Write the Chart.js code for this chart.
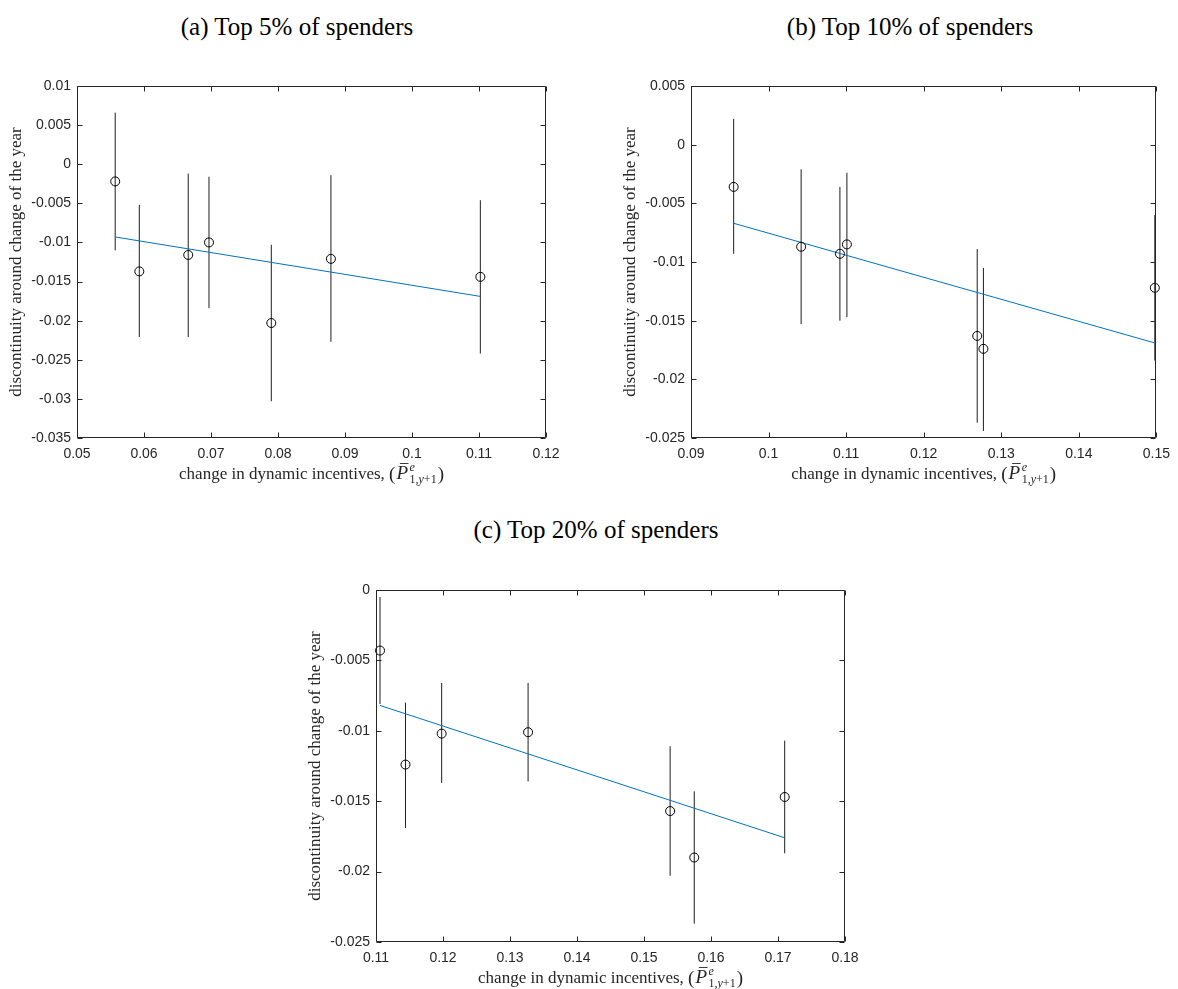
<!DOCTYPE html>
<html>
<head>
<meta charset="utf-8">
<script src="https://cdn.jsdelivr.net/npm/chart.js@4/dist/chart.umd.min.js"></script>
<style>
  html, body { margin: 0; padding: 0; background: #ffffff; }
  body { width: 1178px; height: 989px; position: relative; overflow: hidden; }
  canvas { position: absolute; }
  .ttl { position: absolute; font-family: "Liberation Serif", "Times New Roman", serif; font-size: 25px; color: #000; text-align: center; width: 400px; line-height: 26px; white-space: nowrap; }
</style>
</head>
<body>
<div class="ttl" style="left:97px; top:14px;">(a) Top 5% of spenders</div>
<div class="ttl" style="left:710px; top:14px;">(b) Top 10% of spenders</div>
<div class="ttl" style="left:396px; top:517px;">(c) Top 20% of spenders</div>
<canvas id="cA" width="600" height="440" style="left:0px; top:60px;"></canvas>
<canvas id="cB" width="578" height="440" style="left:600px; top:60px;"></canvas>
<canvas id="cC" width="600" height="424" style="left:290px; top:565px;"></canvas>
<script>
// ---------- Panel (a): Top 5% ----------
const xA   = [0.0557, 0.0593, 0.0666, 0.0697, 0.0790, 0.0879, 0.1102];
const yA   = [-0.0022, -0.0137, -0.0116, -0.0100, -0.0203, -0.0121, -0.0144];
const hiA  = [0.0066, -0.0052, -0.0012, -0.0016, -0.0103, -0.0014, -0.0046];
const loA  = [-0.0110, -0.0221, -0.0221, -0.0184, -0.0303, -0.0227, -0.0242];
const fitXA = [0.0557, 0.1102];
const fitYA = [-0.0093, -0.0169];
const xTickValsA = [0.05, 0.06, 0.07, 0.08, 0.09, 0.1, 0.11, 0.12];
const xTickLabelsA = ['0.05', '0.06', '0.07', '0.08', '0.09', '0.1', '0.11', '0.12'];
const yTickValsA = [0.01, 0.005, 0, -0.005, -0.01, -0.015, -0.02, -0.025, -0.03, -0.035];
const yTickLabelsA = ['0.01', '0.005', '0', '-0.005', '-0.01', '-0.015', '-0.02', '-0.025', '-0.03', '-0.035'];

// ---------- Panel (b): Top 10% ----------
const xB   = [0.0955, 0.1042, 0.1092, 0.1101, 0.1269, 0.1277, 0.1498];
const yB   = [-0.0036, -0.0087, -0.0093, -0.0085, -0.0163, -0.0174, -0.0122];
const hiB  = [0.0022, -0.0021, -0.0036, -0.0024, -0.0089, -0.0105, -0.0060];
const loB  = [-0.0093, -0.0153, -0.0150, -0.0147, -0.0237, -0.0244, -0.0184];
const fitXB = [0.0955, 0.1498];
const fitYB = [-0.0067, -0.0169];
const xTickValsB = [0.09, 0.1, 0.11, 0.12, 0.13, 0.14, 0.15];
const xTickLabelsB = ['0.09', '0.1', '0.11', '0.12', '0.13', '0.14', '0.15'];
const yTickValsB = [0.005, 0, -0.005, -0.01, -0.015, -0.02, -0.025];
const yTickLabelsB = ['0.005', '0', '-0.005', '-0.01', '-0.015', '-0.02', '-0.025'];

// ---------- Panel (c): Top 20% ----------
const xC   = [0.1106, 0.1144, 0.1198, 0.1327, 0.1539, 0.1575, 0.1710];
const yC   = [-0.0043, -0.0124, -0.0102, -0.0101, -0.0157, -0.0190, -0.0147];
const hiC  = [-0.0005, -0.0080, -0.0066, -0.0066, -0.0111, -0.0143, -0.0107];
const loC  = [-0.0081, -0.0169, -0.0137, -0.0136, -0.0203, -0.0237, -0.0187];
const fitXC = [0.1106, 0.1710];
const fitYC = [-0.0082, -0.0176];
const xTickValsC = [0.11, 0.12, 0.13, 0.14, 0.15, 0.16, 0.17, 0.18];
const xTickLabelsC = ['0.11', '0.12', '0.13', '0.14', '0.15', '0.16', '0.17', '0.18'];
const yTickValsC = [0, -0.005, -0.01, -0.015, -0.02, -0.025];
const yTickLabelsC = ['0', '-0.005', '-0.01', '-0.015', '-0.02', '-0.025'];

const yTitle = 'discontinuity around change of the year';
const xTitleText = 'change in dynamic incentives, (';

const AXIS_COLOR = '#262626';
const SANS = '"Liberation Sans", Arial, Helvetica, sans-serif';
const SERIF = '"Liberation Serif", "Times New Roman", serif';

function labelFor(vals, labels, v) {
  const i = vals.findIndex(t => Math.abs(t - v) < 1e-9);
  return i >= 0 ? labels[i] : '';
}

const framePlugin = {
  id: 'frame',
  afterDraw(chart) {
    const { ctx, chartArea: a, scales } = chart;
    const L = Math.round(a.left) + 0.5, R = Math.round(a.right) - 0.5;
    const T = Math.round(a.top) + 0.5, B = Math.round(a.bottom) - 0.5;
    ctx.save();
    ctx.strokeStyle = AXIS_COLOR;
    ctx.lineWidth = 1;
    ctx.beginPath();
    ctx.rect(L, T, R - L, B - T);
    ctx.stroke();
    const tl = 5;
    ctx.beginPath();
    scales.x.ticks.forEach(t => {
      const px = Math.round(scales.x.getPixelForValue(t.value)) + 0.5;
      ctx.moveTo(px, B); ctx.lineTo(px, B - tl);
      ctx.moveTo(px, T); ctx.lineTo(px, T + tl);
    });
    scales.y.ticks.forEach(t => {
      const py = Math.round(scales.y.getPixelForValue(t.value)) + 0.5;
      ctx.moveTo(L, py); ctx.lineTo(L + tl, py);
      ctx.moveTo(R, py); ctx.lineTo(R - tl, py);
    });
    ctx.stroke();

    // y-axis title (rotated)
    ctx.fillStyle = AXIS_COLOR;
    ctx.font = '17px ' + SERIF;
    ctx.textAlign = 'center';
    ctx.textBaseline = 'middle';
    ctx.save();
    ctx.translate(a.left - 60, (a.top + a.bottom) / 2);
    ctx.rotate(-Math.PI / 2);
    ctx.fillText(yTitle, 0, 0);
    ctx.restore();

    // x-axis title with math part
    const fs = 17, ms = 19, sm = 12;
    const fN = fs + 'px ' + SERIF, mN = ms + 'px ' + SERIF, fI = 'italic ' + ms + 'px ' + SERIF;
    const sN = sm + 'px ' + SERIF, sI = 'italic ' + sm + 'px ' + SERIF;
    const base = a.bottom + 41;
    const w = (f, t) => { ctx.font = f; return ctx.measureText(t).width; };
    const subParts = [['1,', sN], ['y', sI], ['+1', sN]];
    const subW = subParts.reduce((s, p) => s + w(p[1], p[0]), 0);
    const supW = w(sI, 'e');
    const pW = w(fI, 'P');
    const main = xTitleText.slice(0, -1);
    const total = w(fN, main) + w(mN, '(') + 1 + pW + 1.5 + Math.max(subW, supW) + 1 + w(mN, ')');
    let x = (a.left + a.right) / 2 - total / 2;
    ctx.textAlign = 'left';
    ctx.textBaseline = 'alphabetic';
    ctx.font = fN; ctx.fillText(main, x, base); x += w(fN, main);
    ctx.font = mN; ctx.fillText('(', x, base + 1); x += w(mN, '(') + 1;
    ctx.font = fI; ctx.fillText('P', x, base);
    ctx.beginPath();
    ctx.lineWidth = 0.9;
    ctx.strokeStyle = AXIS_COLOR;
    ctx.moveTo(x + 3.5, base - 15.5); ctx.lineTo(x + pW + 0.5, base - 15.5);
    ctx.stroke();
    x += pW + 1.5;
    ctx.font = sI; ctx.fillText('e', x, base - 8);
    let sx = x;
    subParts.forEach(p => { ctx.font = p[1]; ctx.fillText(p[0], sx, base + 4); sx += w(p[1], p[0]); });
    x += Math.max(subW, supW) + 1;
    ctx.font = mN; ctx.fillText(')', x, base + 1);
    ctx.restore();
  }
};

function buildChart(id, d) {
  const errData = [];
  d.x.forEach((xv, i) => {
    errData.push({ x: xv, y: d.lo[i] });
    errData.push({ x: xv, y: d.hi[i] });
    errData.push({ x: xv, y: null });
  });
  const ptData = d.x.map((xv, i) => ({ x: xv, y: d.y[i] }));
  const fitData = d.fitX.map((xv, i) => ({ x: xv, y: d.fitY[i] }));
  return new Chart(document.getElementById(id), {
    type: 'scatter',
    data: {
      datasets: [
        { data: errData, showLine: true, spanGaps: false, borderColor: '#1e1e1e', borderWidth: 1,
          pointRadius: 0, order: 3, clip: false },
        { data: fitData, showLine: true, borderColor: '#0072BD', borderWidth: 1, pointRadius: 0, order: 2, clip: false },
        { data: ptData, showLine: false, pointStyle: 'circle', pointRadius: 4.5, pointBorderWidth: 1,
          pointBorderColor: '#000', pointBackgroundColor: 'rgba(0,0,0,0)', order: 1, clip: false }
      ]
    },
    options: {
      responsive: false,
      animation: false,
      devicePixelRatio: 1,
      layout: { padding: d.pad },
      plugins: { legend: { display: false }, tooltip: { enabled: false } },
      scales: {
        x: {
          type: 'linear', min: d.xVals[0], max: d.xVals[d.xVals.length - 1],
          grid: { display: false, drawTicks: false }, border: { display: false },
          ticks: { font: { family: SANS, size: 14 }, color: AXIS_COLOR, padding: 8,
                   autoSkip: false, maxRotation: 0, minRotation: 0,
                   callback: v => labelFor(d.xVals, d.xLabels, v) },
          afterBuildTicks: s => { s.ticks = d.xVals.map(v => ({ value: v })); },
          afterFit: s => { s.height = d.xH; }
        },
        y: {
          type: 'linear', min: Math.min(...d.yVals), max: Math.max(...d.yVals),
          grid: { display: false, drawTicks: false }, border: { display: false },
          ticks: { font: { family: SANS, size: 14 }, color: AXIS_COLOR, padding: 6,
                   autoSkip: false,
                   callback: v => labelFor(d.yVals, d.yLabels, v) },
          afterBuildTicks: s => { s.ticks = d.yVals.slice().sort((p, q) => p - q).map(v => ({ value: v })); },
          afterFit: s => { s.width = d.yW; }
        }
      }
    },
    plugins: [framePlugin]
  });
}

buildChart('cA', { x: xA, y: yA, hi: hiA, lo: loA, fitX: fitXA, fitY: fitYA,
  xVals: xTickValsA, xLabels: xTickLabelsA, yVals: yTickValsA, yLabels: yTickLabelsA,
  pad: { left: 0, top: 26, right: 54, bottom: 0 }, yW: 77, xH: 62 });
buildChart('cB', { x: xB, y: yB, hi: hiB, lo: loB, fitX: fitXB, fitY: fitYB,
  xVals: xTickValsB, xLabels: xTickLabelsB, yVals: yTickValsB, yLabels: yTickLabelsB,
  pad: { left: 0, top: 26, right: 19, bottom: 0 }, yW: 91, xH: 62 });
buildChart('cC', { x: xC, y: yC, hi: hiC, lo: loC, fitX: fitXC, fitY: fitYC,
  xVals: xTickValsC, xLabels: xTickLabelsC, yVals: yTickValsC, yLabels: yTickLabelsC,
  pad: { left: 0, top: 25, right: 45, bottom: 0 }, yW: 86, xH: 47 });
</script>
</body>
</html>
